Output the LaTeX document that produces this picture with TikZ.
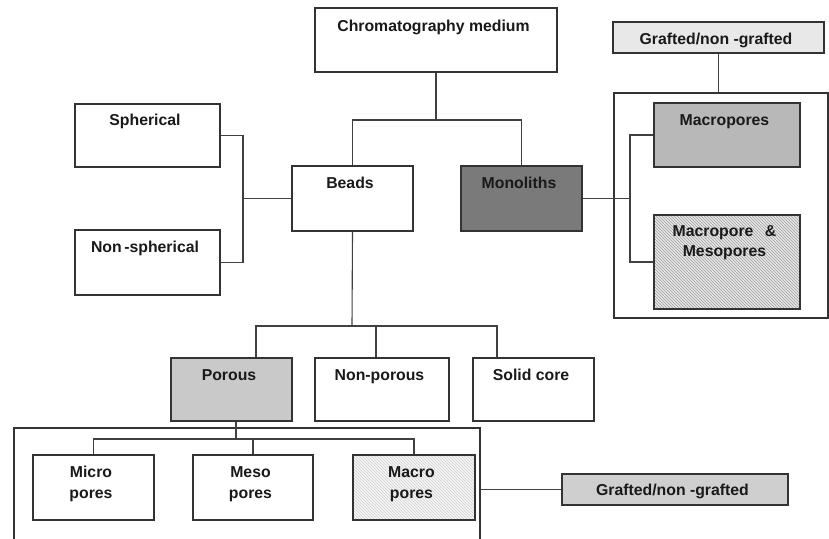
\documentclass[tikz,border=0pt]{standalone}
\usepackage{fontspec}
\setmainfont{Liberation Sans}
\usetikzlibrary{patterns}
\newcommand{\bxnode}[6]{\node[box,#6,minimum width={#4pt-#2pt},minimum height={#5pt-#3pt}] (#1) at ({(#2+#4)/2},{(#3+#5)/2}) {};}
\begin{document}
\begin{tikzpicture}[x=1pt,y=-1pt,
  box/.style={draw=black!80, rectangle, inner sep=0pt, line width=1.1pt},
  lbl/.style={font=\bfseries\fontsize{15.8}{18}\selectfont, text=black!90, inner sep=0pt, anchor=base, xshift=-2.5pt},
  wire/.style={draw=black!75, line width=1.1pt},
  hatch/.style={preaction={fill=black!9}, pattern=north west lines, pattern color=black!38},
  lhatch/.style={preaction={fill=black!4}, pattern=north west lines, pattern color=black!18}]
\useasboundingbox (0,0) rectangle (829,538);
\clip (0,0) rectangle (829,538);
% containers
\bxnode{rcont}{614}{93}{828}{318}{fill=white}
\bxnode{bcont}{14}{428}{480}{570}{fill=white}
% boxes
\bxnode{chrom}{315}{8}{557}{72}{fill=white}
\bxnode{graftA}{613}{22}{824}{53}{fill=black!9}
\bxnode{sph}{75}{104}{220}{167}{fill=white}
\bxnode{nonsph}{75}{230}{220}{295}{fill=white}
\bxnode{beads}{292}{166}{413}{231}{fill=white}
\bxnode{mono}{461}{166}{582}{231}{fill=black!52}
\bxnode{macro}{654}{103}{800}{167}{fill=black!28}
\bxnode{mmeso}{654}{215}{800}{309}{hatch}
\bxnode{porous}{171}{358}{292}{421}{fill=black!21}
\bxnode{nonpor}{315}{358}{449}{421}{fill=white}
\bxnode{solid}{473}{358}{594}{421}{fill=white}
\bxnode{micro}{33}{455}{154}{520}{fill=white}
\bxnode{meso}{193}{455}{313}{520}{fill=white}
\bxnode{macrob}{353}{455}{475}{520}{lhatch}
\bxnode{graftB}{562}{474}{788}{505}{fill=black!19}
% labels
\node[lbl] at ([yshift=-24pt]chrom.north) {Chromatography medium};
\node[lbl] at ([yshift=-23pt]graftA.north) {Grafted/non -grafted};
\node[lbl] at ([yshift=-22pt]sph.north) {Spherical};
\node[lbl] at ([yshift=-23pt]nonsph.north) {Non\,-spherical};
\node[lbl] at ([yshift=-23pt]beads.north) {Beads};
\node[lbl] at ([yshift=-23pt]mono.north) {Monoliths};
\node[lbl] at ([yshift=-23pt]macro.north) {Macropores};
\node[lbl] at ([yshift=-22pt]mmeso.north) {Macropore \ \,\&};
\node[lbl] at ([yshift=-42pt]mmeso.north) {Mesopores};
\node[lbl] at ([yshift=-23pt]porous.north) {Porous};
\node[lbl] at ([yshift=-23pt]nonpor.north) {Non-porous};
\node[lbl] at ([yshift=-23pt]solid.north) {Solid core};
\node[lbl] at ([yshift=-23pt]micro.north) {Micro};
\node[lbl] at ([yshift=-44pt]micro.north) {pores};
\node[lbl] at ([yshift=-23pt]meso.north) {Meso};
\node[lbl] at ([yshift=-44pt]meso.north) {pores};
\node[lbl] at ([yshift=-23pt]macrob.north) {Macro};
\node[lbl] at ([yshift=-44pt]macrob.north) {pores};
\node[lbl] at ([yshift=-22pt]graftB.north) {Grafted/non -grafted};
% connectors
\coordinate (j1) at (436,120);
\draw[wire] (chrom.south) -- (j1);
\draw[wire] (beads.north) -- (beads.north |- j1) -- (mono.north |- j1) -- (mono.north);
\coordinate (jb) at (243,198.5);
\draw[wire] (sph.east) -| (jb) |- (nonsph.east);
\draw[wire] (jb) -- (beads.west);
\coordinate (jm) at (630,198.5);
\draw[wire] (mono.east) -- (jm);
\draw[wire] (macro.west) -| (jm) |- (mmeso.west);
\draw[wire] (graftA.south) -- (graftA.south |- rcont.north);
\coordinate (jp) at (352,326);
\draw[wire] (beads.south) -- (jp);
\draw[wire] ([xshift=24.5pt]porous.north) |- (jp) -| ([xshift=-36.5pt]solid.north);
\draw[wire] ([xshift=-6pt]nonpor.north) -- ([xshift=-6pt]nonpor.north |- jp);
\coordinate (jq) at (236,439);
\draw[wire] ([xshift=4.5pt]porous.south) -- (jq);
\draw[wire] (micro.north) |- (jq) -| (macrob.north);
\draw[wire] (meso.north) -- (meso.north |- jq);
\draw[wire] (graftB.west) -- (graftB.west -| bcont.east);
\end{tikzpicture}
\end{document}
